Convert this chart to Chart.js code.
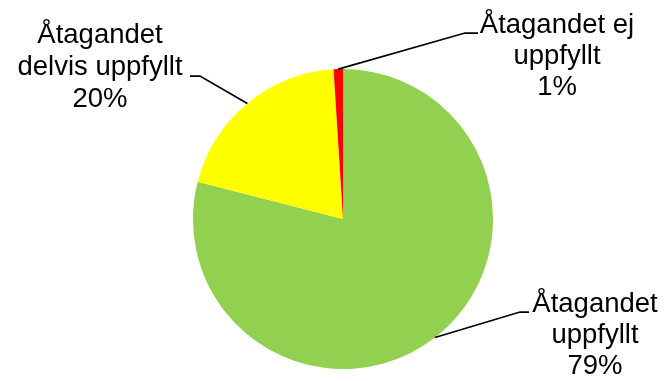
<!DOCTYPE html>
<html>
<head>
<meta charset="utf-8">
<script src="https://cdn.jsdelivr.net/npm/chart.js@4.4.1/dist/chart.umd.min.js"></script>
<style>
    html, body { margin: 0; padding: 0; background: #ffffff; }
    #wrap { position: relative; width: 664px; height: 381px; }
</style>
</head>
<body>
<div id="wrap"><canvas id="pie"></canvas></div>
<script>
const categories = ["Åtagandet uppfyllt", "Åtagandet delvis uppfyllt", "Åtagandet ej uppfyllt"];
const labelLines = [
    ["Åtagandet", "uppfyllt"],
    ["Åtagandet", "delvis uppfyllt"],
    ["Åtagandet ej", "uppfyllt"],
];
const shares = [79, 20, 1];
const sliceColors = ["#92D050", "#FFFF00", "#FF0000"];

// where each label sits (text centre, first baseline) and where its leader bends
const labelPlacement = [
    { x: 595, y: 312, elbowX: 520, elbowY: 312, tipX: 529, step: 31 },
    { x: 100, y: 43, elbowX: 200, elbowY: 76, tipX: 190, step: 32 },
    { x: 557, y: 33, elbowX: 465, elbowY: 33, tipX: 478, step: 31 },
];

const FONT = '27.5px "Liberation Sans"';

const leaderLabels = {
    id: "leaderLabels",
    afterDatasetsDraw(chart) {
        const ctx = chart.ctx;
        const arcs = chart.getDatasetMeta(0).data;
        const total = shares.reduce((a, b) => a + b, 0);

        ctx.save();
        arcs.forEach((arc, i) => {
            const p = labelPlacement[i];
            const mid = (arc.startAngle + arc.endAngle) / 2;
            const ax = arc.x + Math.cos(mid) * arc.outerRadius;
            const ay = arc.y + Math.sin(mid) * arc.outerRadius;

            ctx.strokeStyle = "#000000";
            ctx.lineWidth = 1.75;
            ctx.beginPath();
            ctx.moveTo(ax, ay);
            ctx.lineTo(p.elbowX, p.elbowY);
            ctx.lineTo(p.tipX, p.elbowY);
            ctx.stroke();

            const lines = labelLines[i].concat([Math.round(shares[i] / total * 100) + "%"]);
            ctx.fillStyle = "#000000";
            ctx.font = FONT;
            ctx.textAlign = "center";
            ctx.textBaseline = "alphabetic";
            lines.forEach((line, k) => {
                ctx.fillText(line, p.x, p.y + k * p.step);
            });
        });
        ctx.restore();
    },
};

new Chart(document.getElementById("pie").getContext("2d"), {
    type: "pie",
    data: {
        labels: categories,
        datasets: [
            {
                data: shares,
                backgroundColor: sliceColors,
                borderWidth: 0,
            },
        ],
    },
    plugins: [leaderLabels],
    options: {
        responsive: true,
        maintainAspectRatio: false,
        animation: false,
        layout: {
            padding: { left: 193, right: 171, top: 69, bottom: 12 },
        },
        plugins: {
            legend: { display: false },
            tooltip: { enabled: false },
        },
    },
});
</script>
</body>
</html>
